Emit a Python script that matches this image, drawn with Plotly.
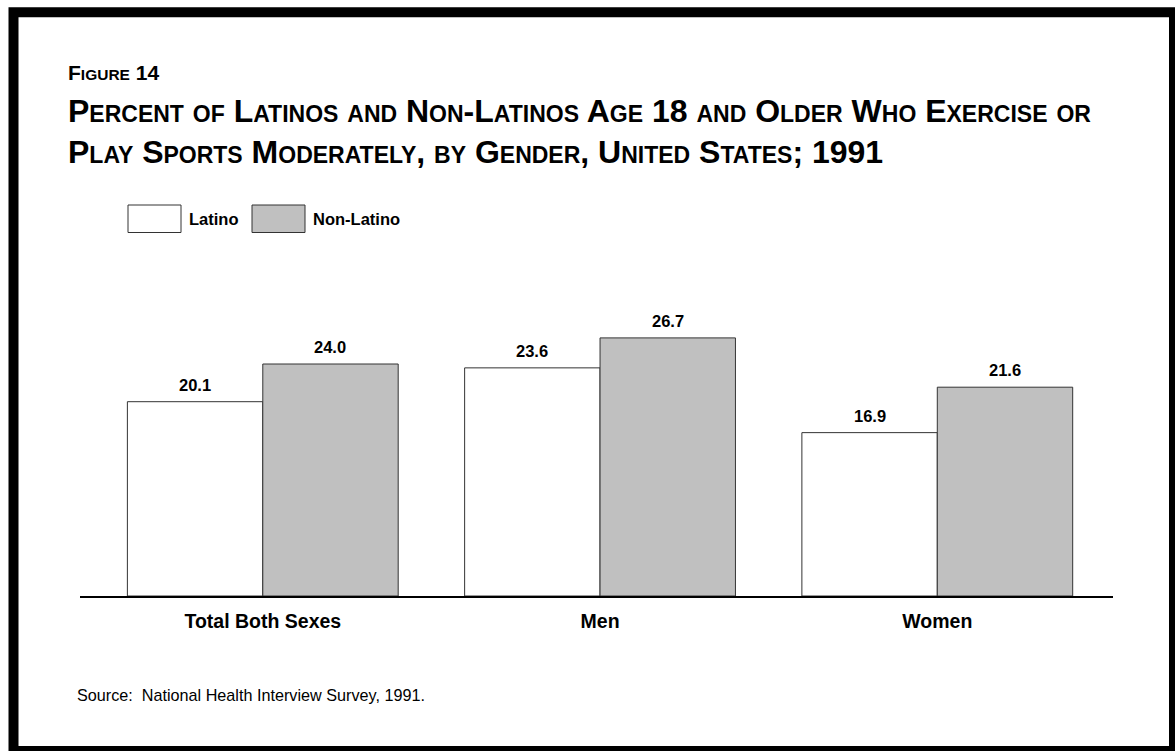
import plotly.graph_objects as go

categories = ["Total Both Sexes", "Men", "Women"]
latino = [20.1, 23.6, 16.9]
non_latino = [24.0, 26.7, 21.6]
series_names = ["Latino", "Non-Latino"]

W, H = 1175, 751
ML, MR, MT, MB = 80, 62, 306, 155
PW, PH = W - ML - MR, H - MT - MB
XMIN, XMAX = -0.542, 2.521
BARGAP = 0.197

def px(x):
    return (x - ML) / PW

def py(y):
    return (H - MB - y) / PH

FONT = "Liberation Sans, Arial, sans-serif"

def smallcaps(text, small):
    out, buf = [], ""
    for ch in text:
        if ch.islower():
            buf += ch.upper()
        else:
            if buf:
                out.append(f'<span style="font-size:{small}px">{buf}</span>')
                buf = ""
            out.append(ch)
    if buf:
        out.append(f'<span style="font-size:{small}px">{buf}</span>')
    return "".join(out)

fig = go.Figure()
fills = ["#ffffff", "#c0c0c0"]
for name, vals, fc in zip(series_names, [latino, non_latino], fills):
    fig.add_trace(go.Bar(
        x=categories, y=vals, name=name,
        marker=dict(color=fc, line=dict(color="#333333", width=1)),
        cliponaxis=False, showlegend=False,
    ))

fig.update_layout(
    width=W, height=H,
    margin=dict(l=ML, r=MR, t=MT, b=MB),
    paper_bgcolor="white", plot_bgcolor="white",
    barmode="group", bargap=BARGAP, bargroupgap=0,
    xaxis=dict(range=[XMIN, XMAX], showline=True, linecolor="black", linewidth=2,
               ticks="", showgrid=False, zeroline=False, ticklabelstandoff=7,
               tickfont=dict(family=FONT, size=19.5, color="black")),
    yaxis=dict(range=[0, 30], visible=False, showgrid=False, zeroline=False),
)

shapes = []
shapes.append(dict(type="rect", xref="paper", yref="paper",
                   x0=px(13.5), x1=px(1174), y0=py(12.3), y1=py(751),
                   line=dict(color="black", width=10), fillcolor="rgba(0,0,0,0)", layer="above"))
for x0, fc in [(128, fills[0]), (252, fills[1])]:
    shapes.append(dict(type="rect", xref="paper", yref="paper",
                       x0=px(x0), x1=px(x0 + 53), y0=py(205), y1=py(232.5),
                       line=dict(color="#333333", width=1), fillcolor=fc))
fig.update_layout(shapes=shapes)

ann = []
cat_px = PW / (XMAX - XMIN)
half_bar = cat_px * (1 - BARGAP) / 4
for vals, sign in [(latino, -1), (non_latino, 1)]:
    for c, v in zip(categories, vals):
        ann.append(dict(x=c, y=v, xref="x", yref="y", xshift=sign * half_bar, yshift=6,
                        xanchor="center", yanchor="bottom", showarrow=False,
                        text=f"<b>{v:.1f}</b>", font=dict(family=FONT, size=16.5, color="black")))
for x0, name in [(187, series_names[0]), (311, series_names[1])]:
    ann.append(dict(xref="paper", yref="paper", x=px(x0), y=py(219.5), xanchor="left", yanchor="middle",
                    text=f"<b>{name}</b>", showarrow=False,
                    font=dict(family=FONT, size=16.5, color="black")))
ann.append(dict(xref="paper", yref="paper", x=px(66), y=py(86), xanchor="left", yanchor="bottom",
                text="<b>" + smallcaps("Figure 14", 15.5) + "</b>", showarrow=False,
                font=dict(family=FONT, size=21, color="black")))
ann.append(dict(xref="paper", yref="paper", x=px(66), y=py(131), xanchor="left", yanchor="bottom",
                text="<b>" + smallcaps("Percent of Latinos and Non-Latinos Age 18 and Older Who Exercise or", 23) + "</b>",
                showarrow=False, font=dict(family=FONT, size=32, color="black")))
ann.append(dict(xref="paper", yref="paper", x=px(66), y=py(172), xanchor="left", yanchor="bottom",
                text="<b>" + smallcaps("Play Sports Moderately, by Gender, United States; 1991", 23) + "</b>",
                showarrow=False, font=dict(family=FONT, size=32, color="black")))
ann.append(dict(xref="paper", yref="paper", x=px(75), y=py(705.5), xanchor="left", yanchor="bottom",
                text="Source:  National Health Interview Survey, 1991.", showarrow=False,
                font=dict(family=FONT, size=16.2, color="black")))
fig.update_layout(annotations=ann)
fig.update_xaxes(tickvals=categories, ticktext=[f"<b>{c}</b>" for c in categories])

fig.write_html("out.html")
